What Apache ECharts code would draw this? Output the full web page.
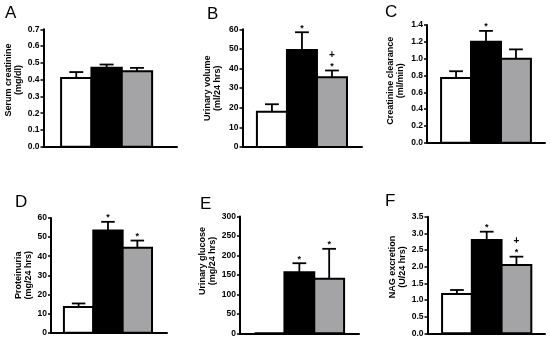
<!DOCTYPE html>
<html>
<head>
<meta charset="utf-8">
<script src="https://cdn.jsdelivr.net/npm/echarts@6/dist/echarts.min.js"></script>
<style>html,body{margin:0;padding:0;background:#fff}#c{width:550px;height:340px}</style>
</head>
<body>
<div id="c"></div>
<script>
// ---- data ----
const categories = ['Group 1', 'Group 2', 'Group 3'];
const panelLetters = ['A', 'B', 'C', 'D', 'E', 'F'];
const yTitles = ['Serum creatinine\n(mg/dl)', 'Urinary volume\n(ml/24 hrs)', 'Creatinine clearance\n(ml/min)',
                 'Proteinuria\n(mg/24 hrs)', 'Urinary glucose\n(mg/24 hrs)', 'NAG excretion\n(U/24 hrs)'];
const yMax = [0.7, 60, 1.4, 60, 300, 3.5];
const yStep = [0.1, 10, 0.2, 10, 50, 0.5];
const yDecimals = [1, 0, 1, 0, 0, 1];

const serumCreatinine = [0.41, 0.47, 0.45];
const serumCreatinineSem = [0.035, 0.02, 0.02];
const urinaryVolume = [18, 49.5, 35.5];
const urinaryVolumeSem = [3.8, 9, 3.5];
const creatinineClearance = [0.77, 1.2, 1.0];
const creatinineClearanceSem = [0.08, 0.13, 0.11];
const proteinuria = [13.5, 53.5, 44.5];
const proteinuriaSem = [1.8, 4.5, 3.7];
const urinaryGlucose = [0, 157, 140];
const urinaryGlucoseSem = [0, 23, 77];
const nagExcretion = [1.18, 2.8, 2.05];
const nagExcretionSem = [0.12, 0.25, 0.25];

// significance marks: '*' vs group 1, '+' vs group 2
const marksA = ['', '', ''];
const marksB = ['', '*', '+*'];
const marksC = ['', '*', ''];
const marksD = ['', '*', '*'];
const marksE = ['', '*', '*'];
const marksF = ['', '*', '+*'];

const means = [serumCreatinine, urinaryVolume, creatinineClearance, proteinuria, urinaryGlucose, nagExcretion];
const sems = [serumCreatinineSem, urinaryVolumeSem, creatinineClearanceSem, proteinuriaSem, urinaryGlucoseSem, nagExcretionSem];
const marks = [marksA, marksB, marksC, marksD, marksE, marksF];

// ---- layout / style ----
const FONT = 'Liberation Sans, Arial, Helvetica, sans-serif';
const barFills = ['#ffffff', '#000000', '#a4a4a6'];
const layout = [
  {left: 43.5, top: 29.3, width: 133.5, height: 117.4, xMin: -1.08, xMax: 3.32, gap: 17, shift: 8, lx: 5, ly: 14},
  {left: 242.5, top: 29.3, width: 119.5, height: 117.7, xMin: -0.98, xMax: 3.0, gap: 20, shift: 0, lx: 207, ly: 15},
  {left: 427, top: 25, width: 118, height: 117.7, xMin: -0.97, xMax: 2.97, gap: 21, shift: 3, lx: 385, ly: 12.5},
  {left: 51, top: 218, width: 116, height: 114.7, xMin: -0.94, xMax: 3.01, gap: 17, shift: 0, lx: 15, ly: 202.5},
  {left: 240, top: 216.5, width: 119, height: 116.8, xMin: -0.99, xMax: 3.0, gap: 21, shift: 14, lx: 200, ly: 205},
  {left: 427.5, top: 216.7, width: 117.5, height: 116.6, xMin: -0.99, xMax: 2.96, gap: 20, shift: 8, lx: 385, ly: 201.5}
];

const grids = [], xAxes = [], yAxes = [], series = [], graphics = [];

layout.forEach((L, p) => {
  grids.push({left: L.left, top: L.top, width: L.width, height: L.height, containLabel: false});
  xAxes.push({
    type: 'value', gridIndex: p, min: L.xMin, max: L.xMax,
    axisLine: {show: true, onZero: false, lineStyle: {color: '#000', width: 2}},
    axisTick: {show: false}, axisLabel: {show: false}, splitLine: {show: false}
  });
  const dec = yDecimals[p];
  yAxes.push({
    type: 'value', gridIndex: p, min: 0, max: yMax[p], interval: yStep[p],
    name: yTitles[p], nameLocation: 'middle', nameRotate: 90, nameGap: L.gap,
    nameTextStyle: {fontFamily: FONT, fontSize: 9, fontWeight: 'bold', color: '#000', lineHeight: 10,
                    padding: [0, 0, 0, L.shift * 2]},
    axisLine: {show: true, onZero: false, lineStyle: {color: '#000', width: 2}},
    axisTick: {show: true, length: 3, lineStyle: {color: '#000', width: 1.5}},
    axisLabel: {fontFamily: FONT, fontSize: 8.5, fontWeight: 'bold', color: '#000', margin: 4,
                formatter: v => Number(v).toFixed(dec)},
    splitLine: {show: false}
  });

  const barData = categories.map((c, i) => [i, means[p][i]]);
  series.push({
    type: 'custom', xAxisIndex: p, yAxisIndex: p, clip: false,
    encode: {x: 0, y: 1},
    data: barData,
    renderItem: (params, api) => {
      const i = api.value(0), v = api.value(1);
      const a = api.coord([i - 0.5, v]);
      const b = api.coord([i + 0.5, 0]);
      return {type: 'rect', shape: {x: a[0], y: a[1], width: b[0] - a[0], height: b[1] - a[1]},
              style: {fill: barFills[i], stroke: '#000', lineWidth: 2}};
    }
  });

  const errData = categories.map((c, i) => [i, means[p][i], sems[p][i]]);
  series.push({
    type: 'custom', xAxisIndex: p, yAxisIndex: p, clip: false,
    encode: {x: 0, y: 1},
    data: errData, z: 3,
    renderItem: (params, api) => {
      const i = api.value(0), m = api.value(1), e = api.value(2);
      const children = [];
      if (e > 0) {
        const base = api.coord([i, m]);
        const top = api.coord([i, m + e]);
        const cl = api.coord([i - 0.23, m + e]);
        const cr = api.coord([i + 0.23, m + e]);
        children.push({type: 'line', shape: {x1: base[0], y1: base[1], x2: top[0], y2: top[1]},
                       style: {stroke: '#000', lineWidth: 1.8}});
        children.push({type: 'line', shape: {x1: cl[0], y1: cl[1], x2: cr[0], y2: cr[1]},
                       style: {stroke: '#000', lineWidth: 1.8}});
        const mk = marks[p][i];
        if (mk.indexOf('*') >= 0) {
          children.push({type: 'text', x: top[0], y: top[1] - 4,
                         style: {text: '*', fill: '#000', fontFamily: FONT, fontSize: 9, fontWeight: 'bold',
                                 align: 'center', verticalAlign: 'middle'}});
        }
        if (mk.indexOf('+') >= 0) {
          children.push({type: 'text', x: top[0], y: top[1] - 15,
                         style: {text: '+', fill: '#000', fontFamily: FONT, fontSize: 10, fontWeight: 'bold',
                                 align: 'center', verticalAlign: 'middle'}});
        }
      }
      return {type: 'group', children: children};
    }
  });

  graphics.push({type: 'text', left: L.lx, top: L.ly - 9,
                 style: {text: panelLetters[p], fill: '#000', fontFamily: FONT, fontSize: 17, fontWeight: 'normal'}});
});

const chart = echarts.init(document.getElementById('c'), null, {renderer: 'canvas'});
chart.setOption({
  animation: false,
  backgroundColor: '#fff',
  grid: grids, xAxis: xAxes, yAxis: yAxes, series: series, graphic: graphics
});
</script>
</body>
</html>
